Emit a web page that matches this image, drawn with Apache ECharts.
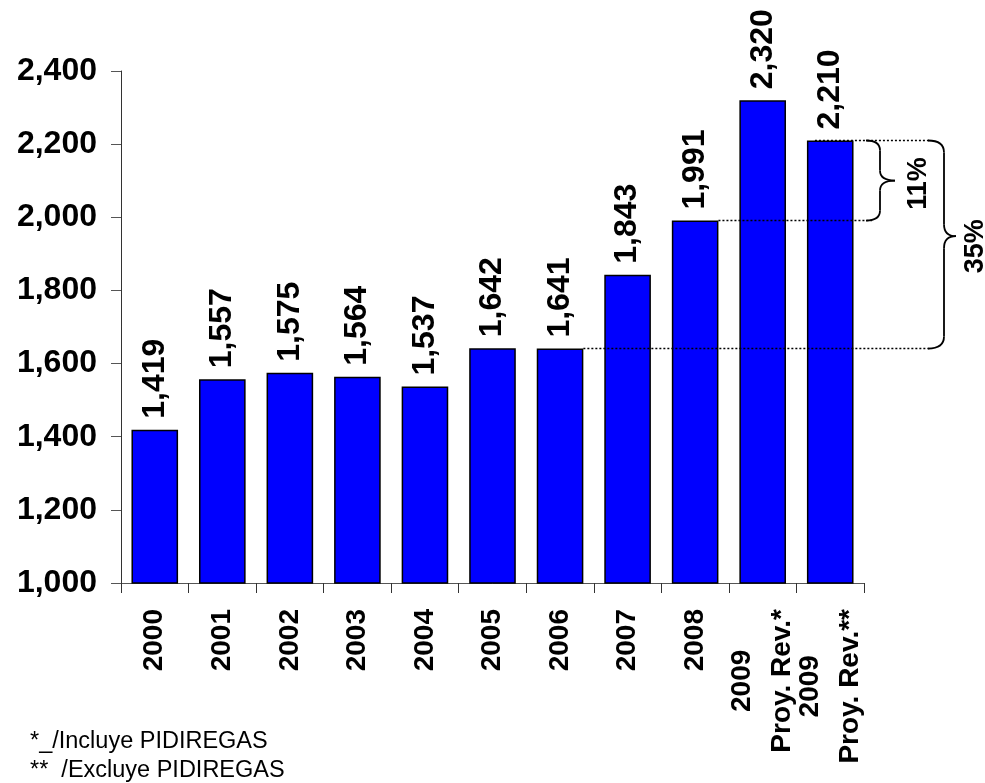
<!DOCTYPE html>
<html><head><meta charset="utf-8">
<script src="https://cdn.jsdelivr.net/npm/echarts@6/dist/echarts.min.js"></script>
<style>html,body{margin:0;padding:0;background:#fff}#c{width:985px;height:783px}</style>
</head><body><div id="c"></div>
<script>
// ---- data ----
const categories = ['2000','2001','2002','2003','2004','2005','2006','2007','2008','2009\nProy. Rev.*','2009\nProy. Rev.**'];
const values = [1419, 1557, 1575, 1564, 1537, 1642, 1641, 1843, 1991, 2320, 2210];
const yMin = 1000, yMax = 2400, yStep = 200;
const footnotes = ['*_/Incluye PIDIREGAS', '**  /Excluye PIDIREGAS'];
const braceSmall = { label: '11%', fromIndex: 8, toIndex: 10 };
const braceBig = { label: '35%', fromIndex: 6, toIndex: 10 };

const FONT = '"Liberation Sans", Arial, sans-serif';
const fmt = v => String(v).replace(/\B(?=(\d{3})+(?!\d))/g, ',');

const chart = echarts.init(document.getElementById('c'));
const option = {
  animation: false,
  backgroundColor: '#fff',
  grid: { left: 121, right: 121, top: 71, bottom: 200, containLabel: false },
  xAxis: {
    type: 'category',
    data: categories,
    axisLine: { lineStyle: { color: '#555', width: 1 } },
    axisTick: { show: true, length: 10, lineStyle: { color: '#333' } },
    axisLabel: {
      interval: 0, rotate: 90, margin: 26,
      fontFamily: FONT, fontWeight: 'bold', fontSize: 28, color: '#000',
      formatter: v => v.split('\n').map(s => '{c|' + s + '}').join('\n'),
      rich: { c: { align: 'center', fontFamily: FONT, fontWeight: 'bold', fontSize: 28, lineHeight: 40, color: '#000' } }
    }
  },
  yAxis: {
    type: 'value', min: yMin, max: yMax, interval: yStep,
    splitLine: { show: false },
    axisLine: { show: true, lineStyle: { color: '#333', width: 1 } },
    axisTick: { show: true, length: 10, lineStyle: { color: '#555' } },
    axisLabel: {
      margin: 24, fontFamily: FONT, fontWeight: 'bold', fontSize: 32, color: '#000',
      formatter: v => fmt(v)
    }
  },
  series: [{
    type: 'bar',
    data: values,
    barCategoryGap: '31%',
    itemStyle: { color: '#0000FF', borderColor: '#000', borderWidth: 1.5 },
    label: {
      show: true, position: 'top', rotate: 90, align: 'left', verticalAlign: 'middle',
      distance: 11, fontFamily: FONT, fontWeight: 'bold', fontSize: 32, color: '#000',
      formatter: p => fmt(p.value)
    }
  }]
};
chart.setOption(option);

// ---- annotations derived from data through the axes ----
const P = (i, v) => chart.convertToPixel({ xAxisIndex: 0, yAxisIndex: 0 }, [i, v]);
const catW = P(1, yMin)[0] - P(0, yMin)[0];
const barW = catW * 0.69;
const cx = i => P(i, yMin)[0];
const py = v => P(0, v)[1];
const R = cx(categories.length - 1) + catW / 2;

const g = [];
const dotted = { stroke: '#000', lineWidth: 1.5, lineDash: [2, 2] };
function hline(x1, x2, y) {
  g.push({ type: 'line', z: 100, shape: { x1, y1: y, x2, y2: y }, style: dotted });
}
hline(cx(braceBig.fromIndex) + barW / 2, R + 66, py(values[braceBig.fromIndex]));
hline(cx(braceSmall.fromIndex) + barW / 2, R + 8, py(values[braceSmall.fromIndex]));
hline(cx(braceBig.toIndex) - barW / 2 + 8, R + 66, py(values[braceBig.toIndex]));

const braceStyle = { stroke: '#000', lineWidth: 1.8, fill: null };
function brace(x0, xm, xt, yT, yM, yB, r) {
  const add = s => g.push(Object.assign({ z: 100, style: braceStyle }, s));
  add({ type: 'bezierCurve', shape: { x1: x0, y1: yT, x2: xm, y2: yT + r, cpx1: xm, cpy1: yT } });
  add({ type: 'line', shape: { x1: xm, y1: yT + r, x2: xm, y2: yM - r } });
  add({ type: 'bezierCurve', shape: { x1: xm, y1: yM - r, x2: xt, y2: yM, cpx1: xm, cpy1: yM } });
  add({ type: 'bezierCurve', shape: { x1: xt, y1: yM, x2: xm, y2: yM + r, cpx1: xm, cpy1: yM } });
  add({ type: 'line', shape: { x1: xm, y1: yM + r, x2: xm, y2: yB - r } });
  add({ type: 'bezierCurve', shape: { x1: xm, y1: yB - r, x2: x0, y2: yB, cpx1: xm, cpy1: yB } });
}
function rotText(text, x, y, size) {
  g.push({ type: 'text', z: 100, x, y, rotation: Math.PI / 2,
    style: { text, font: 'bold ' + size + 'px ' + FONT, fill: '#000', textAlign: 'center', textVerticalAlign: 'middle' } });
}
// small brace (11%)
{
  const yT = py(values[braceSmall.toIndex]), yB = py(values[braceSmall.fromIndex]);
  const yM = (yT + yB) / 2;
  brace(R + 2, R + 16, R + 31, yT, yM, yB, 10);
  rotText(braceSmall.label, R + 55, yM + 3, 27);
}
// big brace (35%)
{
  const yT = py(values[braceBig.toIndex]), yB = py(values[braceBig.fromIndex]);
  const yM = yT + 0.46 * (yB - yT);
  brace(R + 64, R + 80, R + 92, yT, yM, yB, 12);
  rotText(braceBig.label, R + 112, yM + 10, 27);
}
// footnotes
footnotes.forEach((t, i) => {
  g.push({ type: 'text', left: 30, top: 730 + i * 29,
    style: { text: t, font: '23.5px ' + FONT, fill: '#000' } });
});
chart.setOption({ graphic: { elements: g } });
</script>
</body></html>
